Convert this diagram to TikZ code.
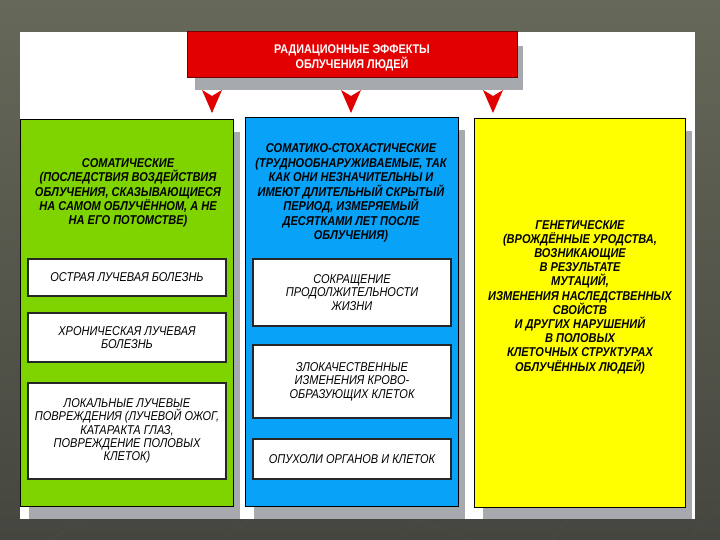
\documentclass[tikz,border=0pt]{standalone}
\usepackage{fontspec}
\setmainfont{Liberation Sans}[FakeStretch=0.86]
\newcommand{\tightlines}{\lineskiplimit=-20pt\lineskip=0pt}
\begin{document}
\begin{tikzpicture}[x=1pt,y=-1pt,
  every node/.style={inner sep=0pt, outer sep=0pt},
  column/.style={draw=black, line width=1pt},
  whitebox/.style={fill=white, draw=black!85, line width=1.3pt},
  coltext/.style={align=center, text=black},
  boxtext/.style={align=center, font=\fontsize{12.8}{13.4}\selectfont\itshape\tightlines, text=black},
  downarrow/.style={fill=arrowred, draw=none},
  bgline/.style={draw=black!70, line width=0.6pt}
]
\definecolor{bgtop}{HTML}{666859}
\definecolor{bgbot}{HTML}{45463F}
\definecolor{shadowgrey}{HTML}{A6A9AE}
\definecolor{colgreen}{HTML}{7FD400}
\definecolor{colblue}{HTML}{08A2F8}
\definecolor{colyellow}{HTML}{FFFF00}
\definecolor{titlered}{HTML}{E20000}
\definecolor{arrowred}{HTML}{E00000}
\useasboundingbox (0,0) rectangle (720,540);
% background
\shade[top color=bgtop, bottom color=bgbot] (0,0) rectangle (720,540);
\draw[bgline] (50,540) -- (82,520);
\draw[bgline] (222,540) -- (248,520);
\draw[bgline] (398,540) -- (418,520);
\draw[bgline] (420,520) -- (470,540);
\draw[bgline] (552,540) -- (568,520);
\draw[bgline] (690,540) -- (715,505);
% slide
\fill[white] (20,32) rectangle (695,519);
% title
\fill[shadowgrey] (195,46) rectangle (523,90);
\node[fill=titlered, draw=red!45!black, line width=1pt, minimum width=330pt, minimum height=46pt, anchor=north west] (title) at (187,32) {};
\node[align=center, text=white, font=\fontsize{12.6}{15}\selectfont\bfseries\tightlines] (titletext) at (352,58)
  {РАДИАЦИОННЫЕ ЭФФЕКТЫ\\ОБЛУЧЕНИЯ ЛЮДЕЙ};
% arrows
\foreach \ax/\nm in {212/a1,351/a2,493/a3}{
  \coordinate (\nm) at (\ax,113);
  \fill[downarrow] (\ax-10,90) -- (\ax,96) -- (\ax+10,90) -- (\nm) -- cycle;
}
% shadows of columns
\fill[shadowgrey] (29,132) rectangle (240,519);
\fill[shadowgrey] (254,130) rectangle (465,519);
\fill[shadowgrey] (483,131) rectangle (692,519);
% columns
\node[column, fill=colgreen, minimum width=213pt, minimum height=386pt, anchor=north west] (green) at (20,120) {};
\node[column, fill=colblue, minimum width=213pt, minimum height=388pt, anchor=north west] (blue) at (245,118) {};
\node[column, fill=colyellow, minimum width=211pt, minimum height=388pt, anchor=north west] (yellow) at (474,119) {};
% column titles
\node[coltext, font=\fontsize{12.8}{14.2}\selectfont\bfseries\itshape\tightlines] (gt) at (128,193) {СОМАТИЧЕСКИЕ\\(ПОСЛЕДСТВИЯ ВОЗДЕЙСТВИЯ\\ОБЛУЧЕНИЯ, СКАЗЫВАЮЩИЕСЯ\\НА САМОМ ОБЛУЧЁННОМ, А НЕ\\НА ЕГО ПОТОМСТВЕ)};
\node[coltext, font=\fontsize{12.8}{14.5}\selectfont\bfseries\itshape\tightlines] (bt) at (351,193) {СОМАТИКО-СТОХАСТИЧЕСКИЕ\\(ТРУДНООБНАРУЖИВАЕМЫЕ, ТАК\\КАК ОНИ НЕЗНАЧИТЕЛЬНЫ И\\ИМЕЮТ ДЛИТЕЛЬНЫЙ СКРЫТЫЙ\\ПЕРИОД, ИЗМЕРЯЕМЫЙ\\ДЕСЯТКАМИ ЛЕТ ПОСЛЕ\\ОБЛУЧЕНИЯ)};
\node[coltext, font=\fontsize{12.8}{14.2}\selectfont\bfseries\itshape\tightlines] (yt) at (580,297) {ГЕНЕТИЧЕСКИЕ\\(ВРОЖДЁННЫЕ УРОДСТВА,\\ВОЗНИКАЮЩИЕ\\В РЕЗУЛЬТАТЕ\\МУТАЦИЙ,\\ИЗМЕНЕНИЯ НАСЛЕДСТВЕННЫХ\\СВОЙСТВ\\И ДРУГИХ НАРУШЕНИЙ\\В ПОЛОВЫХ\\КЛЕТОЧНЫХ СТРУКТУРАХ\\ОБЛУЧЁННЫХ ЛЮДЕЙ)};
% green boxes
\node[whitebox, minimum width=198pt, minimum height=37pt, anchor=north west, boxtext] (g1) at (28,259) {ОСТРАЯ ЛУЧЕВАЯ БОЛЕЗНЬ};
\node[whitebox, minimum width=198pt, minimum height=49pt, anchor=north west, boxtext] (g2) at (28,313) {ХРОНИЧЕСКАЯ ЛУЧЕВАЯ\\БОЛЕЗНЬ};
\node[whitebox, minimum width=198pt, minimum height=96pt, anchor=north west, boxtext] (g3) at (28,383) {ЛОКАЛЬНЫЕ ЛУЧЕВЫЕ\\ПОВРЕЖДЕНИЯ (ЛУЧЕВОЙ ОЖОГ,\\КАТАРАКТА ГЛАЗ,\\ПОВРЕЖДЕНИЕ ПОЛОВЫХ\\КЛЕТОК)};
% blue boxes
\node[whitebox, minimum width=198pt, minimum height=67pt, anchor=north west, boxtext] (b1) at (253,259) {СОКРАЩЕНИЕ\\ПРОДОЛЖИТЕЛЬНОСТИ\\ЖИЗНИ};
\node[whitebox, minimum width=198pt, minimum height=73pt, anchor=north west, boxtext] (b2) at (253,345) {ЗЛОКАЧЕСТВЕННЫЕ\\ИЗМЕНЕНИЯ КРОВО-\\ОБРАЗУЮЩИХ КЛЕТОК};
\node[whitebox, minimum width=198pt, minimum height=40pt, anchor=north west, boxtext] (b3) at (253,439) {ОПУХОЛИ ОРГАНОВ И КЛЕТОК};
\end{tikzpicture}
\end{document}
